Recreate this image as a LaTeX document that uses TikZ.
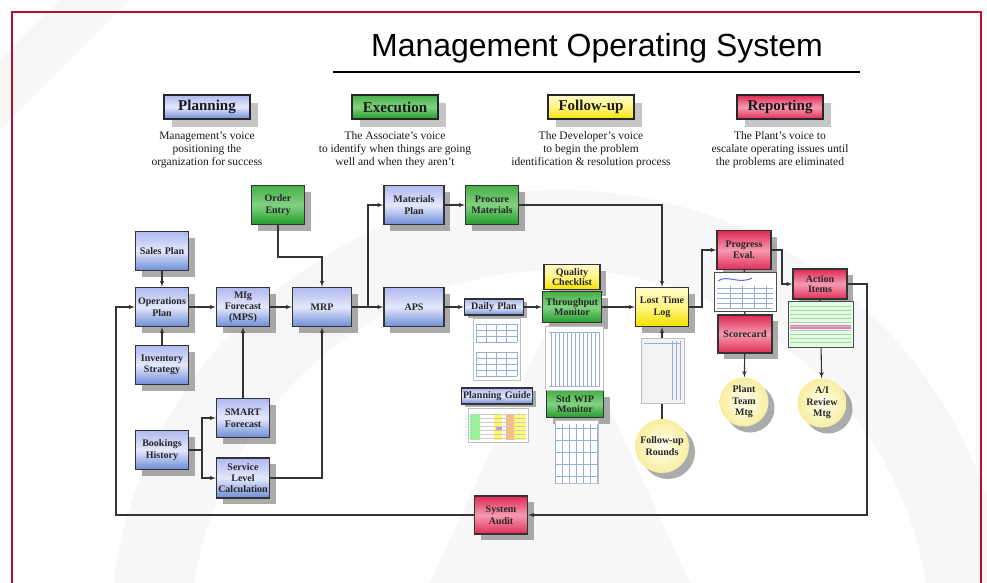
\documentclass[tikz,border=0pt]{standalone}
\usepackage{fontspec}
\setmainfont{Liberation Serif}
\newfontfamily\titlefont{Liberation Sans}
\usepackage{tikz}
\usetikzlibrary{shapes,arrows,shadows}

\definecolor{framered}{RGB}{185,15,55}
\definecolor{bluetop}{RGB}{175,185,238}
\definecolor{bluemid}{RGB}{228,232,252}
\definecolor{bluebot}{RGB}{110,140,215}
\definecolor{greentop}{RGB}{70,175,70}
\definecolor{greenmid}{RGB}{130,210,130}
\definecolor{greenbot}{RGB}{35,155,45}
\definecolor{yellowtop}{RGB}{255,250,205}
\definecolor{yellowmid}{RGB}{255,245,130}
\definecolor{yellowbot}{RGB}{245,225,0}
\definecolor{redtop}{RGB}{222,40,82}
\definecolor{redmid}{RGB}{245,155,175}
\definecolor{redbot}{RGB}{225,45,88}
\definecolor{meetfill}{RGB}{248,238,160}
\definecolor{gridblue}{RGB}{150,175,215}

\tikzstyle{bluefill} = [top color=bluetop, bottom color=bluebot, middle color=bluemid]
\tikzstyle{greenfill} = [top color=greentop, bottom color=greenbot, middle color=greenmid]
\tikzstyle{yellowfill} = [top color=yellowtop, bottom color=yellowbot, middle color=yellowmid]
\tikzstyle{redfill} = [top color=redtop, bottom color=redbot, middle color=redmid]
\tikzstyle{shadowed} = [drop shadow={shadow xshift=6pt, shadow yshift=-6pt, fill=black!55, opacity=0.6}]
\tikzstyle{box} = [rectangle, draw=black!80, line width=1.1pt, align=center,
text width=50pt, minimum width=53pt, minimum height=39pt, inner sep=1pt,
font=\fontsize{10}{11.5}\selectfont\bfseries, text=black!85]
\tikzstyle{planbox} = [box, bluefill, shadowed]
\tikzstyle{execbox} = [box, greenfill, shadowed]
\tikzstyle{followbox} = [box, yellowfill, shadowed]
\tikzstyle{reportbox} = [box, redfill, shadowed]
\tikzstyle{stripbox} = [box, minimum height=16pt, inner sep=0pt,
drop shadow={shadow xshift=3pt, shadow yshift=-3pt, fill=black!55, opacity=0.6}]
\tikzstyle{head} = [rectangle, draw=black!85, line width=1.8pt, minimum width=86pt,
minimum height=24pt, font=\fontsize{15}{17}\selectfont\bfseries, text=black!90,
drop shadow={shadow xshift=8pt, shadow yshift=-8pt, fill=black!45, opacity=0.5}]
\tikzstyle{voice} = [align=center, font=\fontsize{11.5}{13}\selectfont, text=black!90]
\tikzstyle{meeting} = [circle, inner color=yellow!5, outer color=meetfill, minimum size=49pt,
inner sep=0pt, align=center, font=\fontsize{10}{11.5}\selectfont\bfseries, text=black!85, shadowed]
\tikzstyle{line} = [draw, line width=1.1pt, black!80]
\tikzstyle{pijl} = [draw, line width=1.1pt, black!80, -latex']
\tikzstyle{thumb} = [draw=black!25, fill=white, line width=0.4pt]
\tikzstyle{gridl} = [draw=gridblue, line width=0.3pt]

\begin{document}
\begin{tikzpicture}[x=1pt, y=-1pt]
	\useasboundingbox (0,0) rectangle (987,583);
	
	\begin{scope}
		\clip (0,0) rectangle (987,583);
		\fill[black!3, even odd rule] (560,640) circle (450pt) (560,640) circle (370pt);
		\fill[black!3] (560,300) -- (690,583) -- (430,583) -- cycle;
		\fill[black!3] (0,60) -- (60,0) -- (130,0) -- (0,130) -- cycle;
	\end{scope}
	
	\draw[framered, line width=1.5pt] (12,583) -- (12,12) -- (981,12) -- (981,583);
	
	\node[font=\titlefont\fontsize{32}{38}\selectfont] (title) at (597,48) {Management Operating System};
	\draw[line width=2pt] (333,72) -- (860,72);
	
	
	\node [head, bluefill] (planning) at (207,107) {Planning};
	\node [head, greenfill] (execution) at (395,107) {Execution};
	\node [head, yellowfill] (followup) at (591,107) {Follow-up};
	\node [head, redfill] (reporting) at (780,107) {Reporting};
	
	\node [voice] (planvoice) at (207,150) {Management's voice\\positioning the\\organization for success};
	\node [voice] (execvoice) at (395,150) {The Associate's voice\\to identify when things are going\\well and when they aren't};
	\node [voice] (followvoice) at (591,150) {The Developer's voice\\to begin the problem\\identification \& resolution process};
	\node [voice] (reportvoice) at (780,150) {The Plant's voice to\\escalate operating issues until\\the problems are eliminated};
	
	
	\node [execbox] (order) at (278,205) {Order\\Entry};
	\node [planbox] (sales) at (162,251) {Sales Plan};
	\node [planbox] (ops) at (162,307) {Operations\\Plan};
	\node [planbox, font=\fontsize{10}{11}\selectfont\bfseries] (mfg) at (243,307) {Mfg\\Forecast\\(MPS)};
	\node [planbox, minimum width=59pt] (mrp) at (322,307) {MRP};
	\node [planbox] (inv) at (162,365) {Inventory\\Strategy};
	\node [planbox] (smart) at (243,418) {SMART\\Forecast};
	\node [planbox] (book) at (162,450) {Bookings\\History};
	\node [planbox, minimum height=40pt, font=\fontsize{10}{11}\selectfont\bfseries] (slc) at (243,478) {Service\\Level\\Calculation};
	
	\node [planbox, minimum width=60pt] (matplan) at (414,205) {Materials\\Plan};
	\node [execbox] (procure) at (492,205) {Procure\\Materials};
	\node [planbox, minimum width=60pt] (aps) at (414,307) {APS};
	\node [stripbox, bluefill, minimum width=59pt, text width=58pt] (daily) at (494,307) {Daily Plan};
	\node [followbox, minimum width=56pt, minimum height=25pt, font=\fontsize{10}{10.5}\selectfont\bfseries] (quality) at (572,277) {Quality\\Checklist};
	\node [execbox, minimum width=57pt, minimum height=31pt, text width=57pt, font=\fontsize{10}{10.5}\selectfont\bfseries] (through) at (572,307) {Throughput\\Monitor};
	\node [followbox] (ltl) at (662,307) {Lost Time\\Log};
	\node [stripbox, bluefill, minimum width=71pt, text width=70pt] (pguide) at (497,396) {Planning Guide};
	\node [execbox, minimum width=57pt, minimum height=27pt, font=\fontsize{10}{10.5}\selectfont\bfseries] (stdwip) at (575,404) {Std WIP\\Monitor};
	\node [meeting, minimum size=54pt] (rounds) at (662,446) {Follow-up\\Rounds};
	
	\node [reportbox, minimum width=54pt] (progress) at (744,250) {Progress\\Eval.};
	\node [reportbox, minimum width=54pt, minimum height=38pt] (score) at (745,334) {Scorecard};
	\node [reportbox, minimum width=54pt, minimum height=30pt, font=\fontsize{10}{10.5}\selectfont\bfseries] (action) at (820,284) {Action\\Items};
	\node [meeting] (plant) at (744,402) {Plant\\Team\\Mtg};
	\node [meeting] (aireview) at (822,403) {A/I\\Review\\Mtg};
	\node [reportbox, minimum height=38pt] (audit) at (501,515) {System\\Audit};
	
	
	\coordinate (oe) at (278,257);
	\coordinate (split) at (202,450);
	\coordinate (mrpsplit) at (368,307);
	\coordinate (lp) at (702,307);
	\coordinate (pa) at (782,250);
	\coordinate (loopr) at (867,284);
	\coordinate (loopbr) at (867,515);
	\coordinate (loopbl) at (116,515);
	\coordinate (loopl) at (116,307);
	
	\path [pijl] (sales)--(ops);
	\path [pijl] (inv)--(ops);
	\path [pijl] (ops)--(mfg);
	\path [pijl] (mfg)--(mrp);
	\path [pijl] (order)--(oe)-|(mrp);
	\path [line] (book)--(split);
	\path [pijl] (split)|-(smart);
	\path [pijl] (split)|-(slc);
	\path [pijl] (smart)--(mfg);
	\path [pijl] (slc)-|(mrp);
	
	\path [pijl] (mrp)--(aps);
	\path [pijl] (mrpsplit)|-(matplan);
	\path [pijl] (matplan)--(procure);
	\path [pijl] (procure)-|(ltl);
	\path [pijl] (aps)--(daily);
	\path [pijl] (daily)--(through);
	\path [pijl] (through)--(ltl);
	\path [pijl] (rounds)--(ltl);
	
	\path [pijl] (ltl)--(lp)|-(progress);
	\path [pijl] (progress)--(pa)|-(action);
	\path [line] (progress)--(score);
	\path [pijl] (score)--(plant);
	\path [pijl] (action)--(aireview);
	
	\path [pijl] (action)--(loopr)--(loopbr)--(audit);
	\path [pijl] (audit)--(loopbl)--(loopl)--(ops);
	
	
	\draw[thumb] (473,318) rectangle (520,380);
	\foreach \y in {324,330,336,342,352,358,364,370,376}
		\draw[gridl] (476,\y) -- (517,\y);
	\foreach \x in {476,486,496,506,517}
		\draw[gridl] (\x,324) -- (\x,342) (\x,352) -- (\x,376);
	
	\draw[thumb] (545,326) rectangle (603,390);
	\draw[gridl] (549,332) -- (600,332) (549,386) -- (600,386);
	\foreach \x in {551,555,...,599}
		\draw[gridl] (\x,332) -- (\x,386);
	
	\draw[thumb, fill=black!5] (641,338) rectangle (684,403);
	\foreach \x in {672,676,680}
		\draw[gridl] (\x,341) -- (\x,400);
	\draw[gridl] (644,343) -- (681,343);
	
	\draw[thumb] (468,408) rectangle (528,442);
	\fill[green!45] (470,414) rectangle (480,440);
	\fill[yellow!60] (494,414) rectangle (502,440);
	\fill[orange!55] (506,414) rectangle (514,440);
	\fill[yellow!55] (514,414) rectangle (526,440);
	\fill[violet!40] (496,426) rectangle (502,430);
	\foreach \y in {414,418,...,438}
		\draw[gridl, draw=black!20] (470,\y) -- (526,\y);
	
	\draw[thumb] (555,420) rectangle (598,483);
	\foreach \x in {555,562,...,597}
		\draw[gridl] (\x,424) -- (\x,483);
	\foreach \y in {428,440,...,476}
		\draw[gridl] (555,\y) -- (598,\y);
	
	\draw[thumb, draw=black!70, line width=0.8pt] (714,272) rectangle (776,311);
	\draw[blue!60, line width=1pt] (718,281) .. controls (728,274) and (738,285) .. (752,278);
	\foreach \y in {288,293,...,308}
		\draw[gridl] (717,\y) -- (773,\y);
	\foreach \x in {730,742,754,766}
		\draw[gridl] (\x,286) -- (\x,309);
	
	\draw[thumb, draw=black!70, line width=0.8pt, fill=green!12] (788,301) rectangle (853,347);
	\fill[magenta!55] (790,325) rectangle (851,329);
	\foreach \y in {306,310,...,342}
		\draw[gridl, draw=green!40!black!30] (790,\y) -- (851,\y);
	
\end{tikzpicture}
\end{document}
